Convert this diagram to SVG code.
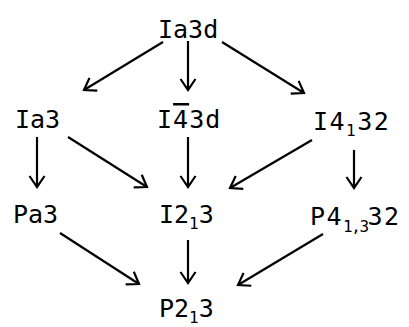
<svg xmlns="http://www.w3.org/2000/svg" width="409" height="327" viewBox="0 0 409 327">
<defs>
<marker id="ah" markerUnits="userSpaceOnUse" markerWidth="14" markerHeight="18" viewBox="0 0 14 18" refX="12" refY="9" orient="auto">
<path d="M1,1.5 L12,9 L1,16.5" fill="none" stroke="#000" stroke-width="2.2" stroke-linejoin="miter"/>
</marker>
<style>
text{font-family:"DejaVu Sans Mono","Liberation Mono",monospace;font-size:25px;fill:#000}
.s{font-size:16px}
.c line{stroke:#000;stroke-width:2.2;marker-end:url(#ah)}
</style>
</defs>
<rect width="409" height="327" fill="#fff"/>
<g id="Ia3d"><text x="158" y="38">Ia3d</text></g>
<g id="Ia3"><text x="15" y="128">Ia3</text></g>
<g id="I-43d"><text x="157" y="128" letter-spacing="1">I<tspan style="text-decoration:overline">4</tspan>3d</text></g>
<g id="I4_132"><text x="313" y="130" letter-spacing="1.5">I4<tspan class="s" dy="6">1</tspan><tspan dy="-6">32</tspan></text></g>
<g id="Pa3"><text x="13" y="223">Pa3</text></g>
<g id="I2_13"><text x="159" y="223">I2<tspan class="s" dy="6">1</tspan><tspan dy="-6">3</tspan></text></g>
<g id="P4_1332"><text x="310" y="225" letter-spacing="1.5">P4<tspan class="s" dy="7" letter-spacing="-1.5">1,3</tspan><tspan dy="-7">32</tspan></text></g>
<g id="P2_13"><text x="159" y="317">P2<tspan class="s" dy="6">1</tspan><tspan dy="-6">3</tspan></text></g>
<g id="connectors" class="c">
<line x1="163" y1="42" x2="84" y2="90"/>
<line x1="188" y1="41" x2="188" y2="90"/>
<line x1="222" y1="42" x2="304" y2="93"/>
<line x1="37" y1="137" x2="37" y2="187"/>
<line x1="68" y1="137" x2="147" y2="187"/>
<line x1="188" y1="137" x2="188" y2="187"/>
<line x1="312" y1="140" x2="230" y2="188"/>
<line x1="354" y1="150" x2="354" y2="188"/>
<line x1="60" y1="233" x2="139" y2="284"/>
<line x1="188" y1="240" x2="188" y2="283"/>
<line x1="323" y1="234" x2="238" y2="285"/>
</g>
</svg>
